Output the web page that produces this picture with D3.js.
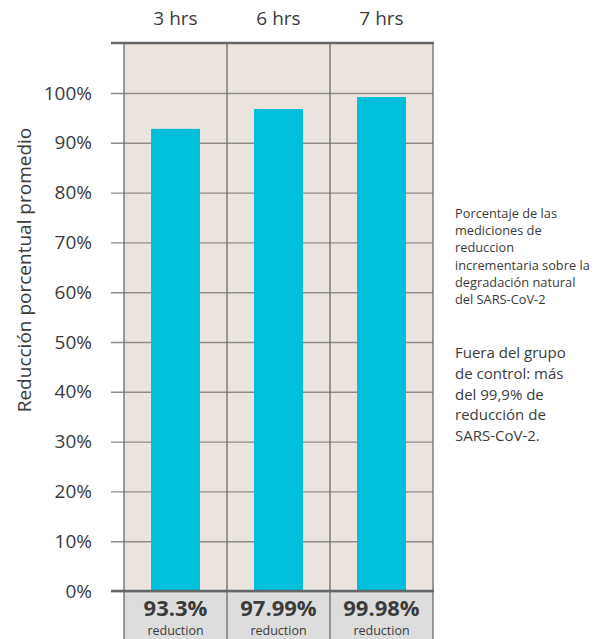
<!DOCTYPE html>
<html>
<head>
<meta charset="utf-8">
<script src="https://cdn.jsdelivr.net/npm/d3@7"></script>
<style>
    body { margin: 0; background: #fff; }
    svg { display: block; font-family: "Open Sans", "Noto Sans", sans-serif; }
</style>
</head>
<body>
<div id="chart"></div>
<script>
    'use strict';

    // chart values
    var categories = ['3 hrs', '6 hrs', '7 hrs'];
    var barValues = [92.8, 96.8, 99.2];
    var reductionLabels = ['93.3%', '97.99%', '99.98%'];
    var yTicks = [0, 10, 20, 30, 40, 50, 60, 70, 80, 90, 100];
    var yTitle = 'Reducción porcentual promedio';
    var noteSmall = ['Porcentaje de las', 'mediciones de', 'reduccion', 'incrementaria sobre la', 'degradación natural', 'del SARS-CoV-2'];
    var noteLarge = ['Fuera del grupo', 'de control: más', 'del 99,9% de', 'reducción de', 'SARS-CoV-2.'];

    (function () {
        var width = 608,
            height = 639;
        var plotLeft = 124,
            plotRight = 433,
            stubLeft = 111,
            plotTop = 43,
            plotBottom = 591;
        var textColor = '#3b3b3b';

        var svg = d3.select('#chart')
            .append('svg')
            .attr('width', width)
            .attr('height', height);

        var x = d3.scaleBand()
            .domain(categories)
            .range([plotLeft, plotRight]);

        //narrower band for the bars, centered in each column
        var xBar = d3.scaleBand()
            .domain(categories)
            .range([plotLeft, plotRight])
            .paddingInner(0.525)
            .paddingOuter(0.2625);

        var y = d3.scaleLinear()
            .domain([0, 100])
            .range([plotBottom, 93]);

        // plot background + bottom grey strip
        svg.append('rect')
            .attr('x', plotLeft)
            .attr('y', plotTop)
            .attr('width', plotRight - plotLeft)
            .attr('height', plotBottom - plotTop)
            .attr('fill', '#ebe4de');

        svg.append('rect')
            .attr('x', plotLeft)
            .attr('y', plotBottom)
            .attr('width', plotRight - plotLeft)
            .attr('height', height - plotBottom)
            .attr('fill', '#dddddd');

        // gridlines and tick labels
        var yAxis = svg.append('g')
            .attr('transform', 'translate(' + stubLeft + ',0)')
            .call(d3.axisLeft(y)
                .tickValues(yTicks)
                .tickSize(-(plotRight - stubLeft))
                .tickPadding(19)
                .tickFormat(function (d) { return d + '%'; }));

        yAxis.select('.domain').remove();
        yAxis.selectAll('.tick line')
            .attr('stroke', '#8e8c8a')
            .attr('stroke-width', 1.4);
        yAxis.selectAll('.tick text')
            .attr('fill', textColor)
            .style('font-size', '19px')
            .style('font-family', '"Open Sans", sans-serif');

        // bars
        svg.selectAll('rect.bar')
            .data(barValues)
            .enter()
            .append('rect')
            .attr('class', 'bar')
            .attr('x', function (d, i) { return xBar(categories[i]); })
            .attr('width', xBar.bandwidth())
            .attr('y', function (d) { return y(d); })
            .attr('height', function (d) { return y(0) - y(d); })
            .attr('fill', '#00bfdc');

        // column separators
        var edges = categories.map(function (c) { return x(c); }).concat([plotRight]);
        svg.selectAll('line.col')
            .data(edges)
            .enter()
            .append('line')
            .attr('class', 'col')
            .attr('x1', function (d) { return d; })
            .attr('x2', function (d) { return d; })
            .attr('y1', plotTop)
            .attr('y2', height)
            .attr('stroke', '#6a6a6a')
            .attr('stroke-width', 1.3);

        // heavy top and base lines
        svg.selectAll('line.rule')
            .data([plotTop, plotBottom])
            .enter()
            .append('line')
            .attr('class', 'rule')
            .attr('x1', stubLeft)
            .attr('x2', plotRight + 1)
            .attr('y1', function (d) { return d; })
            .attr('y2', function (d) { return d; })
            .attr('stroke', '#666')
            .attr('stroke-width', 2.6);

        // category labels on top
        var xAxis = svg.append('g')
            .attr('transform', 'translate(0,' + plotTop + ')')
            .call(d3.axisTop(x).tickSize(0).tickPadding(18));
        xAxis.select('.domain').remove();
        xAxis.selectAll('.tick text')
            .attr('fill', textColor)
            .style('font-size', '19px')
            .style('font-family', '"Open Sans", sans-serif');

        // reduction labels in the grey strip
        svg.selectAll('text.pct')
            .data(reductionLabels)
            .enter()
            .append('text')
            .attr('class', 'pct')
            .attr('x', function (d, i) { return x(categories[i]) + x.bandwidth() / 2; })
            .attr('y', 616)
            .attr('text-anchor', 'middle')
            .attr('fill', textColor)
            .style('font-size', '22px')
            .style('font-weight', 'bold')
            .text(function (d) { return d; });

        svg.selectAll('text.red')
            .data(reductionLabels)
            .enter()
            .append('text')
            .attr('class', 'red')
            .attr('x', function (d, i) { return x(categories[i]) + x.bandwidth() / 2; })
            .attr('y', 635)
            .attr('text-anchor', 'middle')
            .attr('fill', textColor)
            .style('font-size', '12.5px')
            .text('reduction');

        // y title
        svg.append('text')
            .attr('transform', 'translate(31,270) rotate(-90)')
            .attr('text-anchor', 'middle')
            .attr('fill', textColor)
            .style('font-size', '19px')
            .text(yTitle);

        // side notes
        svg.selectAll('text.noteS')
            .data(noteSmall)
            .enter()
            .append('text')
            .attr('class', 'noteS')
            .attr('x', 455)
            .attr('y', function (d, i) { return 218 + i * 17.2; })
            .attr('fill', textColor)
            .style('font-size', '12.8px')
            .text(function (d) { return d; });

        svg.selectAll('text.noteL')
            .data(noteLarge)
            .enter()
            .append('text')
            .attr('class', 'noteL')
            .attr('x', 455)
            .attr('y', function (d, i) { return 358 + i * 20.8; })
            .attr('fill', textColor)
            .style('font-size', '15px')
            .text(function (d) { return d; });
    })();
</script>
</body>
</html>
